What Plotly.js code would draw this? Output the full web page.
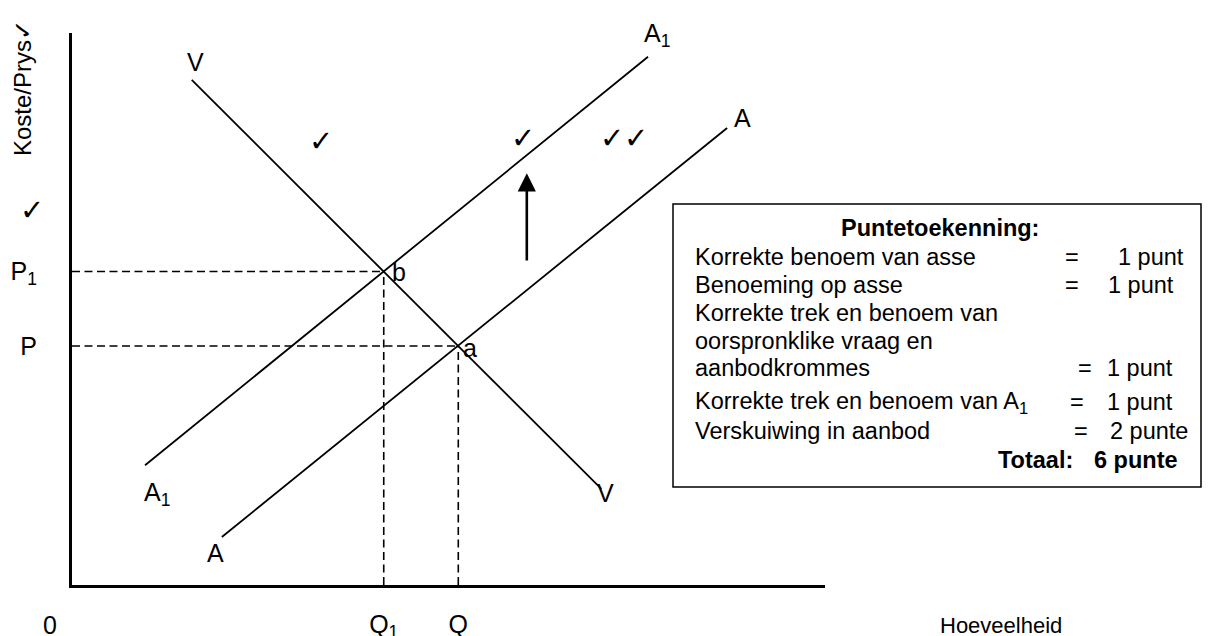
<!DOCTYPE html>
<html>
<head>
<meta charset="utf-8">
<script src="https://cdn.plot.ly/plotly-3.0.1.min.js"></script>
<style>html,body{margin:0;padding:0;background:#fff;}#chart{width:1211px;height:636px;}</style>
</head>
<body>
<div id="chart"></div>
<script>
// ---- data (diagram units) ----
const demandX  = [1.59, 7.03];
const demandY  = [9.15, 1.74];
const supply1X = [0.97, 7.65];
const supply1Y = [2.17, 9.57];
const supplyX  = [1.99, 8.70];
const supplyY  = [0.87, 8.28];
const quantities = [4.14, 5.13];          // Q1, Q
const prices     = [5.68, 4.33];          // P1, P
const quantityLabels = ["Q<sub>1</sub>", "Q"];
const priceLabels    = ["P<sub>1</sub>", "P"];
const shiftArrow = {x: [6.04, 6.04], y: [5.85, 7.46]};

const boxLeft  = ["Korrekte benoem van asse", "Benoeming op asse", "Korrekte trek en benoem van",
                  "oorspronklike vraag en", "aanbodkrommes", "Korrekte trek en benoem van A<sub>1</sub>",
                  "Verskuiwing in aanbod"];
const boxRight = ["1 punt", "1 punt", "", "", "1 punt", "1 punt", "2 punte"];

// ---- layout helpers (pixel -> paper) ----
const L = 72, R = 825, T = 33, B = 585;
const px = x => (x - L) / (R - L);
const py = y => (B - y) / (B - T);
const FONT = "Liberation Sans, Arial, sans-serif";
const FS = 25;      // diagram labels
const BFS = 23.5;   // box text

const blk = {color: "black", width: 1.8};
const dsh = {color: "black", width: 1.6, dash: "8px,4.5px"};

const traces = [
  {x: demandX,  y: demandY,  mode: "lines", line: blk},
  {x: supply1X, y: supply1Y, mode: "lines", line: blk},
  {x: supplyX,  y: supplyY,  mode: "lines", line: blk}
];
for (let i = 0; i < quantities.length; i++) {
  traces.push({x: [0, quantities[i]], y: [prices[i], prices[i]], mode: "lines", line: dsh});
  traces.push({x: [quantities[i], quantities[i]], y: [0, prices[i]], mode: "lines", line: dsh});
}
traces.forEach(t => { t.hoverinfo = "skip"; t.showlegend = false; t.cliponaxis = false; });

const ann = [];
function txt(text, x, y, opts) {
  ann.push(Object.assign({text: text, xref: "paper", yref: "paper", x: px(x), y: py(y),
    showarrow: false, xanchor: "center", yanchor: "middle",
    font: {family: FONT, size: FS, color: "black"}}, opts || {}));
}
// curve labels
txt("V", 195, 62);
txt("A<sub>1</sub>", 657, 35);
txt("A", 742, 118);
txt("b", 399, 272);
txt("a", 470, 348);
txt("A<sub>1</sub>", 157, 494);
txt("A", 215, 553);
txt("V", 605, 493);
// axis labels
txt("0", 50, 625);
txt("Hoeveelheid", 1001, 625, {font: {family: FONT, size: 22, color: "black"}});
txt("Koste/Prys✓", 22, 88, {textangle: -90, font: {family: FONT, size: 24, color: "black"}});
// check marks
const CK = {font: {family: "DejaVu Sans", size: 29, color: "black"}};
txt("✓", 32, 210, CK);
txt("✓", 321, 141, CK);
txt("✓", 523, 138, CK);
txt("✓", 612, 138, CK);
txt("✓", 636, 138, CK);
// arrow
ann.push({x: shiftArrow.x[1], y: shiftArrow.y[1], ax: shiftArrow.x[0], ay: shiftArrow.y[0],
  xref: "x", yref: "y", axref: "x", ayref: "y", text: "", showarrow: true,
  arrowhead: 2, arrowsize: 1.4, arrowwidth: 2.6, arrowcolor: "black"});
// box text
const BF = {font: {family: FONT, size: BFS, color: "black"}};
txt("<b>Puntetoekenning:</b>", 940, 228, BF);
const rowsY = [257, 285, 313, 341, 368, 402, 431];
const eqX   = [1072, 1072, 0, 0, 1085, 1077, 1081];
const valX  = [1116, 1106, 0, 0, 1105, 1105, 1108];
boxLeft.forEach((s, i) => {
  txt(s, 693, rowsY[i], Object.assign({xanchor: "left"}, BF));
  if (boxRight[i]) {
    txt("=", eqX[i], rowsY[i], BF);
    txt(boxRight[i], valX[i], rowsY[i], Object.assign({xanchor: "left"}, BF));
  }
});
txt("<b>Totaal:</b>", 996, 460, Object.assign({xanchor: "left"}, BF));
txt("<b>6 punte</b>", 1092, 460, Object.assign({xanchor: "left"}, BF));

const layout = {
  width: 1211, height: 636,
  margin: {l: L, r: 1211 - R, t: T, b: 636 - B, pad: 0},
  paper_bgcolor: "white", plot_bgcolor: "white",
  showlegend: false,
  font: {family: FONT, size: FS, color: "black"},
  xaxis: {range: [0, 10], showgrid: false, zeroline: false, showline: true, linecolor: "black",
          linewidth: 3, ticks: "", tickvals: quantities, ticktext: quantityLabels,
          ticklabelstandoff: 15, tickfont: {family: FONT, size: FS, color: "black"}, fixedrange: true},
  yaxis: {range: [0, 10], showgrid: false, zeroline: false, showline: true, linecolor: "black",
          linewidth: 3, ticks: "", tickvals: prices, ticktext: priceLabels,
          ticklabelstandoff: 27, tickfont: {family: FONT, size: FS, color: "black"}, fixedrange: true},
  shapes: [{type: "rect", xref: "paper", yref: "paper", x0: px(673), x1: px(1201), y0: py(487), y1: py(204),
            line: {color: "black", width: 1.5}, fillcolor: "rgba(0,0,0,0)"}],
  annotations: ann
};

Plotly.newPlot("chart", traces, layout, {staticPlot: true, displayModeBar: false});
</script>
</body>
</html>
